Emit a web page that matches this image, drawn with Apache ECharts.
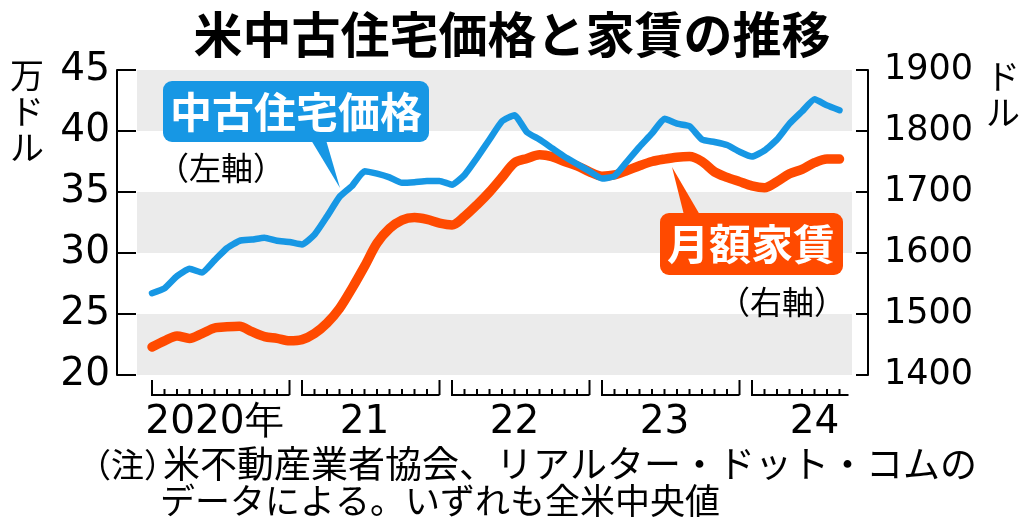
<!DOCTYPE html>
<html>
<head>
<meta charset="utf-8">
<script src="https://cdn.jsdelivr.net/npm/echarts/dist/echarts.min.js"></script>
<style>
html, body { margin: 0; padding: 0; background: #fff; }
#chart_container { width: 1024px; height: 532px; }
</style>
</head>
<body>
<div id="chart_container"></div>
<script>
"use strict";

// monthly, Jan 2020 .. Aug 2024
const yearLabels = ['2020年', '21', '22', '23', '24'];
const monthsPerYear = [12, 12, 12, 12, 8];

// 中古住宅価格 (万ドル, left axis)
const priceValues = [
    26.7, 27.1, 28.1, 28.7, 28.4, 29.4, 30.4, 31.0, 31.1, 31.25, 31.0, 30.9,
    30.7, 31.5, 33.0, 34.6, 35.5, 36.7, 36.5, 36.2, 35.75, 35.8, 35.9, 35.9,
    35.6, 36.4, 37.8, 39.3, 40.8, 41.3, 39.9, 39.3, 38.6, 37.9, 37.3, 36.7,
    36.1, 36.3, 37.5, 38.7, 39.8, 41.0, 40.6, 40.4, 39.3, 39.1, 38.85, 38.3,
    37.9, 38.4, 39.3, 40.6, 41.6, 42.6, 42.1, 41.7
];

// 月額家賃 (ドル, right axis)
const rentValues = [
    1446, 1456, 1464, 1460, 1468, 1477, 1479, 1480, 1471, 1463, 1460, 1456,
    1458, 1468, 1485, 1509, 1542, 1578, 1616, 1640, 1654, 1658, 1655, 1649,
    1646, 1660, 1679, 1700, 1724, 1748, 1755, 1761, 1758, 1750, 1743, 1733,
    1726, 1728, 1735, 1743, 1750, 1754, 1757, 1758, 1750, 1733, 1724, 1717,
    1710, 1707, 1717, 1730, 1737, 1748, 1754, 1754
];

// gray bands on the left scale
const bandRanges = [[20, 25], [30, 35], [40, 45]];

const BLUE = '#1797e4';
const RED = '#ff4a00';
const GRAY = '#ebebeb';
const JP = '"Noto Sans CJK JP", sans-serif';
const NUM = '"DejaVu Sans", sans-serif';

var myChart;

let yearSpans = [];
let start = 0;
monthsPerYear.forEach((n, i) => {
    yearSpans.push([start, start + n - 1, n]);
    start += n;
});

let renderBracket = (params, api) => {
    let first = api.value(0);
    let last = api.value(1);
    let full = api.value(2) === 12;
    let p0 = api.coord([first, 20]);
    let p1 = api.coord([last, 20]);
    let base = Math.round(p0[1]) + 20;
    let stroke = { stroke: '#000', lineWidth: 2 };
    let kids = [];
    let endX = full ? p1[0] : p1[0] + 9;
    kids.push({ type: 'line', shape: { x1: p0[0] - 1, y1: base, x2: endX, y2: base }, style: stroke });
    kids.push({ type: 'line', shape: { x1: p0[0], y1: base - 15, x2: p0[0], y2: base }, style: stroke });
    if (full) {
        kids.push({ type: 'line', shape: { x1: p1[0], y1: base - 15, x2: p1[0], y2: base }, style: stroke });
    }
    let lastSmall = full ? last - 1 : last;
    for (let m = first + 1; m <= lastSmall; m++) {
        let p = api.coord([m, 20]);
        kids.push({ type: 'line', shape: { x1: p[0], y1: base - 6, x2: p[0], y2: base }, style: stroke });
    }
    let pc = api.coord([first + 5, 20]);
    kids.push({
        type: 'text',
        style: {
            text: yearLabels[params.dataIndex], x: pc[0], y: base + 28,
            font: '39px ' + NUM, fill: '#000',
            align: 'center', verticalAlign: 'middle',
            textAlign: 'center', textVerticalAlign: 'middle'
        }
    });
    return { type: 'group', children: kids };
};

// plain text element for the graphic layer
let txt = (text, x, y, font, align, extra) => ({
    type: 'text', z: 100, x: x, y: y,
    style: Object.assign({
        text: text, fill: '#000', font: font,
        align: align || 'center', verticalAlign: 'middle',
        textAlign: align || 'center', textVerticalAlign: 'middle'
    }, extra || {})
});

let optEchart = {
    animation: false,
    textStyle: { fontFamily: JP },
    title: {
        text: '米中古住宅価格と家賃の推移',
        left: 'center',
        top: 5,
        textStyle: { fontSize: 49, fontWeight: 'bold', color: '#000', fontFamily: JP }
    },
    grid: { left: 117, right: 156, top: 70, bottom: 157 },
    xAxis: {
        type: 'value',
        min: -2.8,
        max: 57.28,
        show: false
    },
    yAxis: [
        {
            type: 'value', min: 20, max: 45, interval: 5, position: 'left',
            axisLine: { show: true, onZero: false, lineStyle: { color: '#000', width: 2 } },
            axisTick: { show: true, inside: true, length: 19, lineStyle: { color: '#000', width: 2 } },
            axisLabel: { color: '#000', fontSize: 39, fontFamily: NUM, margin: 7 },
            splitLine: { show: false }
        },
        {
            type: 'value', min: 1400, max: 1900, interval: 100, position: 'right',
            axisLine: { show: true, onZero: false, lineStyle: { color: '#000', width: 2 } },
            axisTick: { show: true, inside: true, length: 12, lineStyle: { color: '#000', width: 2 } },
            axisLabel: { color: '#000', fontSize: 35, fontFamily: NUM, margin: 16, formatter: v => String(v) },
            splitLine: { show: false }
        }
    ],
    series: [
        {
            name: 'bands', type: 'line', data: [], z: 1, silent: true,
            markArea: {
                silent: true,
                itemStyle: { color: GRAY },
                data: bandRanges.map(r => [{ xAxis: -1.2, yAxis: r[0] }, { xAxis: 56, yAxis: r[1] }])
            }
        },
        {
            name: '月額家賃', type: 'line', yAxisIndex: 1, z: 3,
            data: rentValues.map((v, i) => [i, v]),
            showSymbol: false, smooth: 0.3,
            lineStyle: { color: RED, width: 9.5, cap: 'round', join: 'round' }
        },
        {
            name: '中古住宅価格', type: 'line', yAxisIndex: 0, z: 4,
            data: priceValues.map((v, i) => [i, v]),
            showSymbol: false, smooth: 0.15,
            lineStyle: { color: BLUE, width: 6.5, cap: 'round', join: 'round' }
        },
        {
            name: 'years', type: 'custom', yAxisIndex: 0, clip: false, silent: true,
            renderItem: renderBracket,
            data: yearSpans
        }
    ],
    graphic: [
        // blue callout
        { type: 'rect', z: 100, shape: { x: 163, y: 81, width: 266, height: 61, r: 9 }, style: { fill: BLUE } },
        { type: 'polygon', z: 100, shape: { points: [[311, 140], [326, 140], [340, 188]] }, style: { fill: BLUE } },
        txt('中古住宅価格', 296, 112, 'bold 42px ' + JP, 'center', { fill: '#fff' }),
        txt('（左軸）', 221, 168, '32px ' + JP),
        // red callout
        { type: 'rect', z: 100, shape: { x: 660, y: 213, width: 183, height: 62, r: 9 }, style: { fill: RED } },
        { type: 'polygon', z: 100, shape: { points: [[684, 215], [700, 215], [672, 167]] }, style: { fill: RED } },
        txt('月額家賃', 751, 244, 'bold 42px ' + JP, 'center', { fill: '#fff' }),
        txt('（右軸）', 782, 302, '32px ' + JP),
        // axis units
        txt('万\nド\nル', 27, 111, '34px ' + JP, 'center', { lineHeight: 36 }),
        txt('ド\nル', 1003, 94, '34px ' + JP, 'center', { lineHeight: 36 }),
        // note
        txt('（注）', 78, 464, '33px ' + JP, 'left'),
        txt('米不動産業者協会、リアルター・ドット・コムの', 163, 464, '37px ' + JP, 'left'),
        txt('データによる。いずれも全米中央値', 160, 501, '35px ' + JP, 'left')
    ]
};

let pageLoaded = () => {
    let chartDom = document.getElementById('chart_container');
    myChart = echarts.init(chartDom);
    optEchart && myChart.setOption(optEchart);
    console.log(`echart config and creation complete`);
};

window.addEventListener('load', pageLoaded, false);
</script>
</body>
</html>
